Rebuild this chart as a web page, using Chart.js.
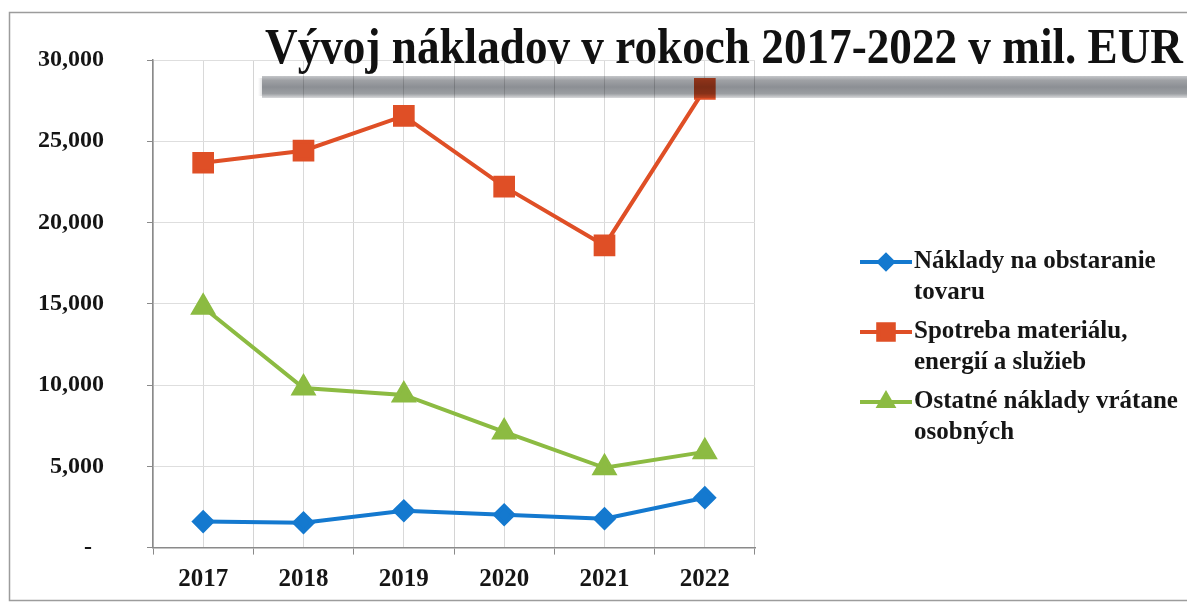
<!DOCTYPE html>
<html>
<head>
<meta charset="utf-8">
<script src="https://cdn.jsdelivr.net/npm/chart.js@4.4.1/dist/chart.umd.min.js"></script>
<style>
  html, body { margin: 0; padding: 0; background: #ffffff; }
  #wrap { width: 1187px; height: 605px; position: relative; }
</style>
</head>
<body>
<div id="wrap"><canvas id="c" width="1187" height="605"></canvas></div>
<script>
// ---- data ----
const years = ['2017', '2018', '2019', '2020', '2021', '2022'];
const nakladyTovar = [1600, 1530, 2270, 2020, 1780, 3070];
const spotrebaMaterialu = [23680, 24420, 26560, 22210, 18590, 28220];
const ostatneNaklady = [14790, 9820, 9390, 7120, 4910, 5890];
const seriesNames = [
  'Náklady na obstaranie tovaru',
  'Spotreba materiálu, energií a služieb',
  'Ostatné náklady vrátane osobných'
];
const legendLines = [
  ['Náklady na obstaranie', 'tovaru'],
  ['Spotreba materiálu,', 'energií a služieb'],
  ['Ostatné náklady vrátane', 'osobných']
];
const titleText = 'Vývoj nákladov v rokoch 2017-2022 v mil. EUR';
const yMin = 0, yMax = 30000, yStep = 5000;

// ---- styling ----
const SERIF = '"Liberation Serif", "Times New Roman", serif';
const colBlue = '#1479cf';
const colOrange = '#df4f26';
const colGreen = '#8cbb42';

const framePlugin = {
  id: 'frame',
  beforeDraw(chart) {
    const ctx = chart.ctx;
    ctx.save();
    ctx.fillStyle = '#ffffff';
    ctx.fillRect(0, 0, chart.width, chart.height);
    ctx.strokeStyle = '#9c9c9c';
    ctx.lineWidth = 1.5;
    ctx.strokeRect(9.5, 12.5, chart.width + 20, 588);
    ctx.restore();
  }
};

const titlePlugin = {
  id: 'titleBox',
  afterDatasetsDraw(chart) {
    const ctx = chart.ctx;
    ctx.save();
    // shadow bar under the title (multiplied over the plot)
    ctx.globalCompositeOperation = 'multiply';
    const g = ctx.createLinearGradient(0, 76, 0, 98);
    g.addColorStop(0, '#c4c6c9');
    g.addColorStop(0.2, '#9fa1a5');
    g.addColorStop(0.5, '#8c8f94');
    g.addColorStop(0.8, '#9b9ea2');
    g.addColorStop(1, '#d8d9db');
    ctx.fillStyle = g;
    ctx.fillRect(262, 76, chart.width, 22);
    // soft left end
    const gl = ctx.createLinearGradient(258, 0, 266, 0);
    gl.addColorStop(0, '#ffffff');
    gl.addColorStop(1, '#c8c9cc');
    ctx.fillStyle = gl;
    ctx.fillRect(258, 78, 4, 18);
    ctx.restore();

    ctx.save();
    ctx.fillStyle = '#111111';
    ctx.font = 'bold 50px ' + SERIF;
    ctx.textBaseline = 'alphabetic';
    ctx.textAlign = 'left';
    const w = ctx.measureText(titleText).width;
    const target = 918;
    const sx = target / w;
    ctx.translate(265, 63);
    ctx.scale(sx, 1);
    ctx.fillText(titleText, 0, 0);
    ctx.restore();
  }
};

const legendPlugin = {
  id: 'sideLegend',
  afterDraw(chart) {
    const ctx = chart.ctx;
    const x0 = 860, x1 = 912, tx = 914;
    const lineH = 31, gap = 8;
    let y = 262;
    chart.data.datasets.forEach((ds, i) => {
      ctx.save();
      ctx.strokeStyle = ds.borderColor;
      ctx.lineWidth = 4;
      ctx.beginPath();
      ctx.moveTo(x0, y);
      ctx.lineTo(x1, y);
      ctx.stroke();
      ctx.fillStyle = ds.pointBackgroundColor;
      ctx.strokeStyle = ds.pointBackgroundColor;
      Chart.helpers.drawPoint(ctx, {
        pointStyle: ds.pointStyle,
        radius: ds.legendRadius,
        borderWidth: 1
      }, (x0 + x1) / 2, y);
      ctx.restore();

      ctx.save();
      ctx.fillStyle = '#161616';
      ctx.font = 'bold 25px ' + SERIF;
      ctx.textBaseline = 'middle';
      ctx.textAlign = 'left';
      legendLines[i].forEach((t, k) => {
        ctx.fillText(t, tx, y + k * lineH);
      });
      ctx.restore();
      y += legendLines[i].length * lineH + gap;
    });
  }
};

const ctx = document.getElementById('c').getContext('2d');
new Chart(ctx, {
  type: 'line',
  data: {
    labels: years,
    datasets: [
      {
        label: seriesNames[0],
        data: nakladyTovar,
        borderColor: colBlue,
        backgroundColor: colBlue,
        pointBackgroundColor: colBlue,
        pointBorderColor: colBlue,
        pointStyle: 'rectRot',
        pointRadius: 9,
        legendRadius: 7,
        borderWidth: 4,
        tension: 0
      },
      {
        label: seriesNames[1],
        data: spotrebaMaterialu,
        borderColor: colOrange,
        backgroundColor: colOrange,
        pointBackgroundColor: colOrange,
        pointBorderColor: colOrange,
        pointStyle: 'rect',
        pointRadius: 12.5,
        legendRadius: 11,
        borderWidth: 4,
        tension: 0
      },
      {
        label: seriesNames[2],
        data: ostatneNaklady,
        borderColor: colGreen,
        backgroundColor: colGreen,
        pointBackgroundColor: colGreen,
        pointBorderColor: colGreen,
        pointStyle: 'triangle',
        pointRadius: 11,
        legendRadius: 8,
        borderWidth: 4,
        tension: 0
      }
    ]
  },
  options: {
    responsive: false,
    animation: false,
    events: [],
    layout: { padding: { left: 0, top: 60, right: 432, bottom: 0 } },
    plugins: {
      legend: { display: false },
      title: { display: false },
      tooltip: { enabled: false }
    },
    scales: {
      x: {
        type: 'category',
        position: 'bottom',
        offset: true,
        grid: {
          offset: true,
          color: '#d4d4d4',
          lineWidth: 1,
          drawTicks: true,
          tickLength: 7,
          tickColor: '#8a8a8a'
        },
        border: { display: true, color: '#8a8a8a', width: 1.5 },
        ticks: {
          color: '#151515',
          font: { family: SERIF, size: 25, weight: 'bold' },
          padding: 10,
          maxRotation: 0
        },
        afterFit(s) { s.height = 57; }
      },
      x2: {
        type: 'category',
        position: 'bottom',
        offset: true,
        grid: {
          offset: false,
          color: '#d9d9d9',
          lineWidth: 1,
          drawTicks: false
        },
        border: { display: false },
        ticks: { display: false },
        afterFit(s) { s.height = 0; }
      },
      y: {
        type: 'linear',
        min: yMin,
        max: yMax,
        grid: {
          color: '#dedede',
          lineWidth: 1,
          drawTicks: true,
          tickLength: 6,
          tickColor: '#8a8a8a'
        },
        border: { display: true, color: '#8a8a8a', width: 1.5 },
        ticks: {
          stepSize: yStep,
          color: '#151515',
          padding: 43,
          font: { family: SERIF, size: 24, weight: 'bold' },
          callback(v) {
            if (v === 0) return '-  ';
            return v.toLocaleString('en-US');
          }
        },
        afterFit(s) { s.width = 153; }
      }
    }
  },
  plugins: [framePlugin, titlePlugin, legendPlugin]
});
</script>
</body>
</html>
